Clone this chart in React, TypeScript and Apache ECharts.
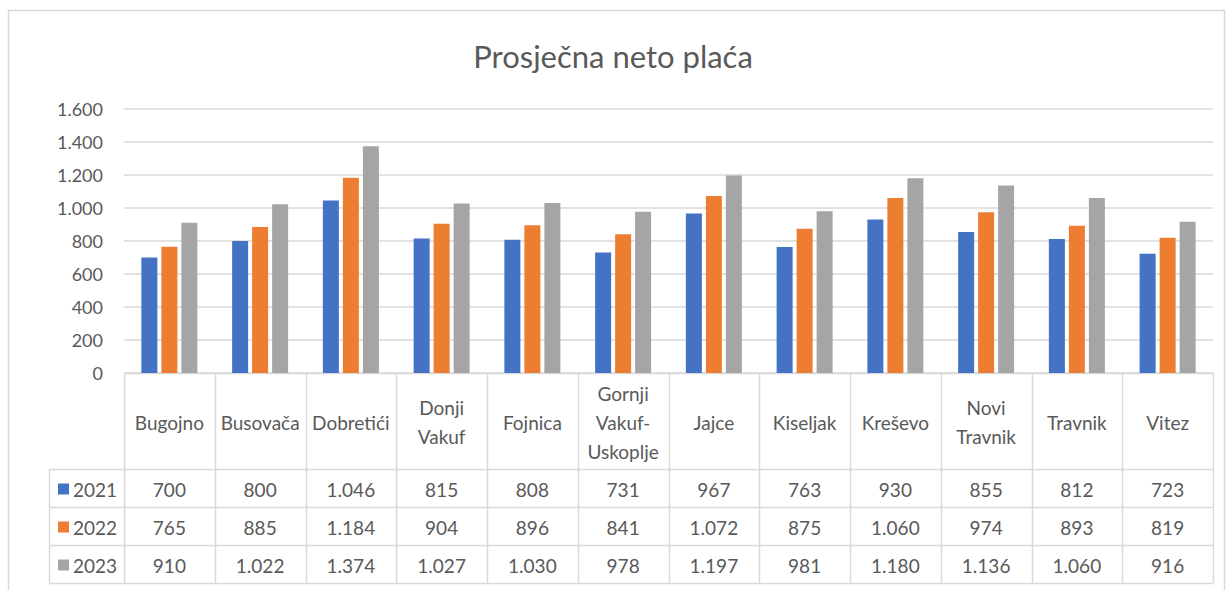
import React, { useEffect, useRef } from "react";
import * as echarts from "echarts";

const categories = [
  "Bugojno",
  "Busovača",
  "Dobretići",
  "Donji\nVakuf",
  "Fojnica",
  "Gornji\nVakuf-\nUskoplje",
  "Jajce",
  "Kiseljak",
  "Kreševo",
  "Novi\nTravnik",
  "Travnik",
  "Vitez",
];
const seriesNames = ["2021", "2022", "2023"];
const values2021 = [700, 800, 1046, 815, 808, 731, 967, 763, 930, 855, 812, 723];
const values2022 = [765, 885, 1184, 904, 896, 841, 1072, 875, 1060, 974, 893, 819];
const values2023 = [910, 1022, 1374, 1027, 1030, 978, 1197, 981, 1180, 1136, 1060, 916];
const colors = ["#4472C4", "#ED7D31", "#A5A5A5"];
const title = "Prosječna neto plaća";

const FONT = "Lato";
const TEXT = "#595959";
const LINE = "#d9d9d9";
const TFS = 19;

const fmt = (v: number) => {
  const s = String(Math.round(v));
  return s.replace(/\B(?=(\d{3})+(?!\d))/g, ".");
};

export default function App() {
  const ref = useRef<HTMLDivElement>(null);
  useEffect(() => {
    if (!ref.current) return;
    const chart = echarts.init(ref.current, undefined, { renderer: "svg" });
    const allSeries = [values2021, values2022, values2023];

    const L = 124;
    const R = 1213;
    const colW = (R - L) / categories.length;
    const yTop = 373;
    const yHead = 469;
    const rowH = 38;
    const yBottom = yHead + rowH * 3;
    const legendL = 49;

    const graphics: any[] = [];
    graphics.push({
      type: "rect",
      shape: { x: 8.5, y: 10.5, width: 1216, height: 640 },
      style: { fill: "none", stroke: LINE, lineWidth: 1.5 },
      silent: true,
    });
    for (let i = 0; i <= categories.length; i++) {
      const x = Math.round(L + i * colW) + 0.5;
      graphics.push({
        type: "line",
        shape: { x1: x, y1: yTop, x2: x, y2: yBottom },
        style: { stroke: LINE, lineWidth: 1.5 },
      });
    }
    graphics.push({
      type: "line",
      shape: { x1: legendL + 0.5, y1: yHead, x2: legendL + 0.5, y2: yBottom },
      style: { stroke: LINE, lineWidth: 1.5 },
    });
    graphics.push({
      type: "line",
      shape: { x1: L, y1: yTop + 0.5, x2: R, y2: yTop + 0.5 },
      style: { stroke: LINE, lineWidth: 1.5 },
    });
    for (let r = 0; r <= 3; r++) {
      const y = yHead + r * rowH + 0.5;
      graphics.push({
        type: "line",
        shape: { x1: legendL, y1: y, x2: R, y2: y },
        style: { stroke: LINE, lineWidth: 1.5 },
      });
    }
    categories.forEach((c, i) => {
      graphics.push({
        type: "text",
        x: L + (i + 0.5) * colW,
        y: (yTop + yHead) / 2 + 1,
        style: {
          text: c,
          fill: TEXT,
          fontSize: TFS,
          fontFamily: FONT,
          align: "center",
          verticalAlign: "middle",
          lineHeight: 29,
        },
      });
    });
    allSeries.forEach((vals, r) => {
      const cy = yHead + r * rowH + rowH / 2 + 1;
      graphics.push({
        type: "rect",
        shape: { x: 58, y: cy - 5.5, width: 11, height: 11 },
        style: { fill: colors[r] },
      });
      graphics.push({
        type: "text",
        x: 73,
        y: cy,
        style: {
          text: seriesNames[r],
          fill: TEXT,
          fontSize: TFS,
          fontFamily: FONT,
          align: "left",
          verticalAlign: "middle",
        },
      });
      vals.forEach((v, i) => {
        graphics.push({
          type: "text",
          x: L + (i + 0.5) * colW,
          y: cy,
          style: {
            text: fmt(v),
            fill: TEXT,
            fontSize: TFS,
            fontFamily: FONT,
            align: "center",
            verticalAlign: "middle",
          },
        });
      });
    });

    chart.setOption({
      animation: false,
      backgroundColor: "#ffffff",
      title: {
        text: title,
        left: "center",
        top: 35,
        textStyle: {
          color: TEXT,
          fontSize: 31,
          fontWeight: "normal",
          fontFamily: FONT,
        },
      },
      grid: { left: L, right: 1226 - R, top: 109, height: yTop - 109 },
      xAxis: {
        type: "category",
        data: categories,
        axisLine: { show: false },
        axisTick: { show: false },
        axisLabel: { show: false },
      },
      yAxis: {
        type: "value",
        min: 0,
        max: 1600,
        interval: 200,
        axisLine: { show: false },
        axisTick: { show: false },
        splitLine: { lineStyle: { color: LINE, width: 1.5 } },
        axisLabel: {
          color: TEXT,
          fontSize: 18,
          fontFamily: FONT,
          margin: 21,
          formatter: (v: number) => fmt(v),
        },
      },
      series: allSeries.map((vals, r) => ({
        name: seriesNames[r],
        type: "bar",
        data: vals,
        barWidth: 16,
        barGap: "25%",
        itemStyle: { color: colors[r] },
      })),
      graphic: graphics,
    });
    return () => chart.dispose();
  }, []);
  return (
    <div
      ref={ref}
      style={{ position: "fixed", left: 0, top: 0, width: 1226, height: 590 }}
    />
  );
}
